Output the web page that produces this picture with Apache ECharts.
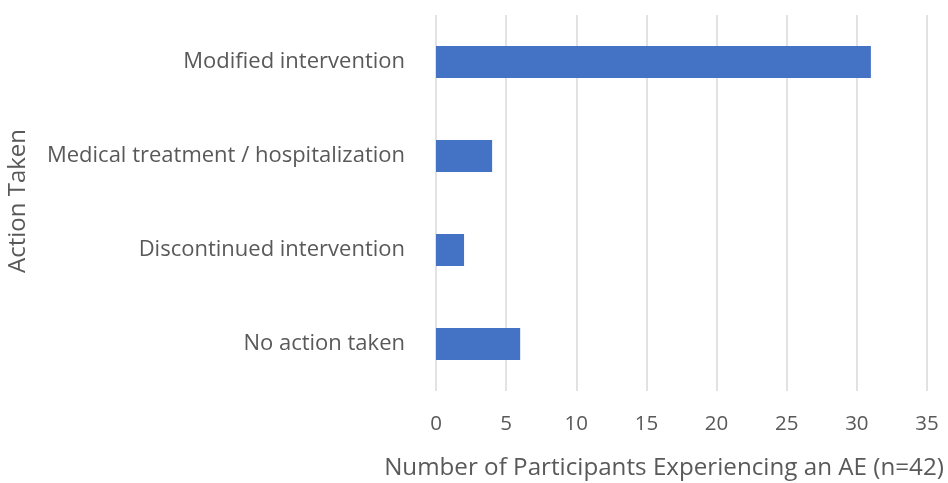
<!DOCTYPE html>
<html><head><meta charset="utf-8">
<script src="https://cdn.jsdelivr.net/npm/echarts@6/dist/echarts.min.js"></script>
<style>html,body{margin:0;padding:0;background:#fff}#c{width:948px;height:483px}</style>
</head><body><div id="c"></div>
<script>
const categories = ["No action taken", "Discontinued intervention", "Medical treatment / hospitalization", "Modified intervention"];
const values = [6, 2, 4, 31];
const xTicks = [0, 5, 10, 15, 20, 25, 30, 35];
const xTitle = "Number of Participants Experiencing an AE (n=42)";
const yTitle = "Action Taken";

const font = "'Open Sans', 'Noto Sans', sans-serif";
const chart = echarts.init(document.getElementById('c'));
chart.setOption({
  animation: false,
  grid: {left: 436, right: 21, top: 15, bottom: 92, containLabel: false},
  xAxis: {
    type: 'value', min: xTicks[0], max: xTicks[xTicks.length-1], interval: 5,
    axisLine: {show: false}, axisTick: {show: false},
    splitLine: {show: true, lineStyle: {color: '#d9d9d9', width: 1.5}},
    axisLabel: {color: '#595959', fontSize: 20.5, fontFamily: font, margin: 23}
  },
  yAxis: {
    type: 'category', data: categories,
    axisLine: {show: false}, axisTick: {show: false},
    axisLabel: {color: '#595959', fontSize: 22, fontFamily: font, margin: 31}
  },
  series: [{
    type: 'bar', data: values, barWidth: '34%',
    itemStyle: {color: '#4472c4'}
  }],
  graphic: [
    {type: 'text', x: 664, y: 468, style: {text: xTitle, fill: '#595959', font: '24.2px ' + font, textAlign: 'center', textVerticalAlign: 'middle'}},
    {type: 'text', rotation: Math.PI/2, x: 18, y: 201, style: {text: yTitle, fill: '#595959', font: '24px ' + font, textAlign: 'center', textVerticalAlign: 'middle'}}
  ]
});
</script></body></html>
